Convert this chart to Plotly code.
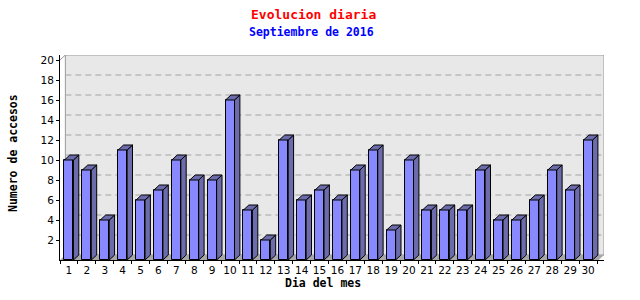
import plotly.graph_objects as go

days = list(range(1, 31))
day_labels = [str(d) for d in days]
accesos = [10, 9, 4, 11, 6, 7, 10, 8, 8, 16, 5, 2, 12, 6, 7, 6, 9, 11, 3, 10,
           5, 5, 5, 9, 4, 4, 6, 9, 7, 12]
y_ticks = [2, 4, 6, 8, 10, 12, 14, 16, 18, 20]

# geometry (3D depth offsets in data units)
XMIN, XMAX = 0.5, 30.89
YMIN, YMAX = 0.0, 20.5
HALF = 0.25
DX, DY = 0.30, 0.5

FRONT = "#8888ff"
SIDE = "#6c6cac"

fig = go.Figure()

# front faces
fig.add_trace(go.Bar(
    x=days, y=accesos, width=2 * HALF,
    marker=dict(color=FRONT, line=dict(color="black", width=1)),
    hoverinfo="skip", showlegend=False))

# side and top faces built from the data
sx, sy, tx, ty = [], [], [], []
for d, v in zip(days, accesos):
    r = d + HALF
    l = d - HALF
    sx += [r, r + DX, r + DX, r, r, None]
    sy += [0, DY, v + DY, v, 0, None]
    tx += [l, l + DX, r + DX, r, l, None]
    ty += [v, v + DY, v + DY, v, v, None]

fig.add_trace(go.Scatter(x=sx, y=sy, mode="lines", fill="toself",
                         fillcolor=SIDE, line=dict(color="black", width=1),
                         hoverinfo="skip", showlegend=False))
fig.add_trace(go.Scatter(x=tx, y=ty, mode="lines", fill="toself",
                         fillcolor=SIDE, line=dict(color="black", width=1),
                         hoverinfo="skip", showlegend=False))

shapes = []
# back wall
shapes.append(dict(type="rect", xref="x", yref="y", x0=XMIN + DX, x1=XMAX,
                   y0=DY, y1=YMAX, fillcolor="#e8e8e8",
                   line=dict(color="#999999", width=1), layer="below"))
# grid lines on back wall
for v in y_ticks[:-1]:
    shapes.append(dict(type="line", xref="x", yref="y", x0=XMIN + DX, x1=XMAX,
                       y0=v + DY, y1=v + DY,
                       line=dict(color="#a4a4a4", width=1, dash="6px,4px"),
                       layer="below"))
# floor
shapes.append(dict(type="path", xref="x", yref="y",
                   path=f"M {XMIN},0 L {XMIN + DX},{DY} L {XMAX},{DY} L {XMAX - DX},0 Z",
                   fillcolor="#a8a8a8", line=dict(width=0), layer="below"))
# left depth edge
shapes.append(dict(type="line", xref="x", yref="y", x0=XMIN, x1=XMIN + DX,
                   y0=20, y1=YMAX, line=dict(color="#999999", width=1),
                   layer="below"))

mono = "DejaVu Sans Mono"
annotations = [
    dict(text="<b>Evolucion diaria</b>", xref="paper", yref="paper",
         x=(313 - 60) / 544, y=(260 - 14) / 205, showarrow=False,
         xanchor="center", yanchor="middle",
         font=dict(family=mono, size=13, color="#ff0000")),
    dict(text="<b>Septiembre de 2016</b>", xref="paper", yref="paper",
         x=(311 - 60) / 544, y=(260 - 32) / 205, showarrow=False,
         xanchor="center", yanchor="middle",
         font=dict(family=mono, size=11.5, color="#0000ff")),
    dict(text="<b>Dia del mes</b>", xref="paper", yref="paper",
         x=(323 - 60) / 544, y=(260 - 283) / 205, showarrow=False,
         xanchor="center", yanchor="middle",
         font=dict(family=mono, size=11.5, color="black")),
    dict(text="<b>Numero de accesos</b>", xref="paper", yref="paper",
         x=(13 - 60) / 544, y=(260 - 153) / 205, showarrow=False,
         xanchor="center", yanchor="middle", textangle=-90,
         font=dict(family=mono, size=11.5, color="black")),
]

fig.update_layout(
    width=640, height=300,
    margin=dict(l=60, r=36, t=55, b=40, pad=0),
    paper_bgcolor="white", plot_bgcolor="white",
    shapes=shapes, annotations=annotations,
    bargap=0, showlegend=False,
    font=dict(family="DejaVu Sans", size=11, color="black"),
    xaxis=dict(range=[XMIN, XMAX], tickmode="array", tickvals=days,
               ticktext=day_labels, ticks="outside", ticklen=0,
               showline=True, linecolor="black", linewidth=1,
               showgrid=False, zeroline=False, fixedrange=True,
               tickfont=dict(family="DejaVu Sans", size=10.5, color="black"),
               minor=dict(tickmode="array",
                          tickvals=[d - 0.5 for d in days] + [days[-1] + 0.5],
                          ticks="outside", ticklen=3, tickcolor="black",
                          showgrid=False)),
    yaxis=dict(range=[YMIN, YMAX], tickmode="array", tickvals=y_ticks,
               ticks="outside", ticklen=3, tickcolor="black",
               showline=True, linecolor="black", linewidth=1,
               showgrid=False, zeroline=False, fixedrange=True,
               tickfont=dict(family="DejaVu Sans", size=10.5, color="black")),
)

fig.write_html("out.html")
